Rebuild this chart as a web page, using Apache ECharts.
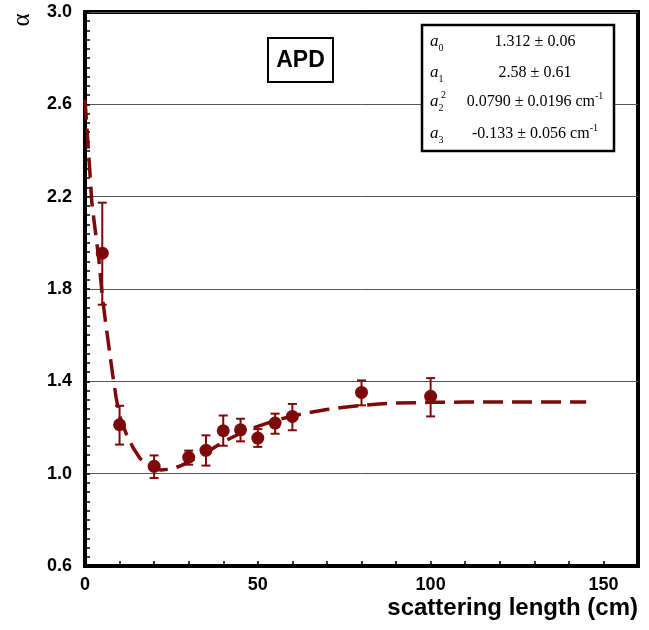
<!DOCTYPE html>
<html>
<head>
<meta charset="utf-8">
<script src="https://cdn.jsdelivr.net/npm/echarts@6/dist/echarts.min.js"></script>
<style>
  html, body { margin: 0; padding: 0; background: #fff; }
  #chart { width: 649px; height: 630px; }
</style>
</head>
<body>
<div id="chart"></div>
<script>
// measured points (scattering length in cm)
const pointX = [5, 10, 20, 30, 35, 40, 45, 50, 55, 60, 80, 100];
const pointY = [1.955, 1.212, 1.032, 1.071, 1.101, 1.186, 1.19, 1.154, 1.219, 1.248, 1.352, 1.335];
const errLow = [1.732, 1.126, 0.981, 1.039, 1.035, 1.121, 1.14, 1.116, 1.173, 1.188, 1.296, 1.248];
const errHigh = [2.174, 1.294, 1.079, 1.10, 1.166, 1.252, 1.238, 1.193, 1.26, 1.302, 1.404, 1.414];

// fitted curve
const fitX = [0, 1, 2, 3, 4, 5, 6, 7, 8, 9, 10, 12, 14, 16, 18, 20, 22, 25, 28, 32, 36, 40, 45, 50, 55, 60, 65, 70, 75, 80, 85, 90, 100, 110, 120, 130, 145];
const fitY = [2.62, 2.40, 2.17, 2.05, 1.93, 1.77, 1.65, 1.54, 1.43, 1.33, 1.25, 1.17, 1.11, 1.065, 1.037, 1.022, 1.016, 1.02, 1.036, 1.068, 1.10, 1.138, 1.175, 1.205, 1.23, 1.25, 1.265, 1.278, 1.288, 1.296, 1.302, 1.306, 1.309, 1.310, 1.311, 1.311, 1.311];

const xTicks = [0, 50, 100, 150];
const yTicks = [0.6, 1.0, 1.4, 1.8, 2.2, 2.6, 3.0];

const params = [
    { sub: '0', sup: '', value: '1.312 ± 0.06', unit: false },
    { sub: '1', sup: '', value: '2.58 ± 0.61', unit: false },
    { sub: '2', sup: '2', value: '0.0790 ± 0.0196 cm', unit: true },
    { sub: '3', sup: '', value: '-0.133 ± 0.056 cm', unit: true }
];
const paramRowY = [42, 73, 102, 134];

const red = '#7d0a0a';
const serif = '"Liberation Serif", "DejaVu Serif", serif';
const sans = '"Liberation Sans", Arial, sans-serif';

const chart = echarts.init(document.getElementById('chart'));

const fitData = fitX.map((x, i) => [x, fitY[i]]);
const pointData = pointX.map((x, i) => [x, pointY[i]]);
const errData = pointX.map((x, i) => [x, errLow[i], errHigh[i]]);

const graphics = [];
graphics.push({
    type: 'text', x: 22, y: 20, rotation: Math.PI / 2,
    style: { text: 'α', font: '25px ' + serif, fill: '#000', align: 'center', verticalAlign: 'middle' }
});
graphics.push({
    type: 'rect', shape: { x: 268, y: 38, width: 65, height: 44 },
    style: { fill: '#fff', stroke: '#000', lineWidth: 2 }, z: 10
});
graphics.push({
    type: 'text', x: 300.5, y: 61, z: 11,
    style: { text: 'APD', font: 'bold 23px ' + sans, fill: '#000', align: 'center', verticalAlign: 'middle' }
});
graphics.push({
    type: 'rect', shape: { x: 422, y: 25, width: 192, height: 126 },
    style: { fill: '#fff', stroke: '#000', lineWidth: 2.5 }, z: 10
});
params.forEach((p, i) => {
    const y = paramRowY[i];
    graphics.push({
        type: 'text', x: 430, y: y, z: 11,
        style: {
            text: '{a|a}{s|' + p.sub + '}',
            align: 'left', verticalAlign: 'middle',
            rich: {
                a: { fontFamily: serif, fontStyle: 'italic', fontSize: 17, lineHeight: 22, fill: '#000' },
                s: { fontFamily: serif, fontSize: 10, verticalAlign: 'bottom', fill: '#000' }
            }
        }
    });
    if (p.sup) {
        graphics.push({
            type: 'text', x: 441, y: y - 7, z: 11,
            style: { text: p.sup, font: '10px ' + serif, fill: '#000', align: 'left', verticalAlign: 'middle' }
        });
    }
    graphics.push({
        type: 'text', x: 535, y: y, z: 11,
        style: {
            text: '{v|' + p.value + '}' + (p.unit ? '{u|-1}' : ''),
            align: 'center', verticalAlign: 'middle',
            rich: {
                v: { fontFamily: serif, fontSize: 16, lineHeight: 22, fill: '#000' },
                u: { fontFamily: serif, fontSize: 10, verticalAlign: 'top', fill: '#000' }
            }
        }
    });
});

const option = {
    animation: false,
    grid: {
        left: 85, right: 11, top: 12, bottom: 64,
        show: true, borderColor: '#000', borderWidth: 4, backgroundColor: 'transparent'
    },
    xAxis: {
        type: 'value', min: 0, max: 160, interval: 50,
        name: 'scattering length (cm)',
        nameLocation: 'end', nameGap: 0,
        nameTextStyle: {
            fontFamily: sans, fontWeight: 'bold', fontSize: 24, color: '#000',
            align: 'right', verticalAlign: 'top', padding: [30, 0, 0, 0]
        },
        axisLine: { show: true, onZero: false, lineStyle: { color: '#000', width: 4 } },
        axisTick: { show: true, inside: true, length: 5, lineStyle: { color: '#000', width: 1.5 } },
        minorTick: { show: true, splitNumber: 5, length: 5, lineStyle: { color: '#000', width: 1.5 } },
        splitLine: { show: false },
        axisLabel: {
            margin: 10, showMaxLabel: false,
            fontFamily: sans, fontWeight: 'bold', fontSize: 18, color: '#000',
            formatter: v => xTicks.includes(v) ? String(v) : ''
        }
    },
    yAxis: {
        type: 'value', min: 0.6, max: 3.0, interval: 0.4,
        axisLine: { show: true, onZero: false, lineStyle: { color: '#000', width: 4 } },
        axisTick: { show: true, inside: true, length: 5, lineStyle: { color: '#000', width: 1.5 } },
        minorTick: { show: true, splitNumber: 10, length: 5, lineStyle: { color: '#000', width: 1.5 } },
        splitLine: { show: true, lineStyle: { color: '#555', width: 1 } },
        axisLabel: {
            margin: 13,
            fontFamily: sans, fontWeight: 'bold', fontSize: 18, color: '#000',
            formatter: v => {
                const t = yTicks.find(k => Math.abs(k - v) < 1e-6);
                return t === undefined ? '' : t.toFixed(1);
            }
        }
    },
    graphic: graphics,
    series: [
        {
            type: 'line', data: fitData, showSymbol: false, symbol: 'none', z: 2,
            lineStyle: { color: red, width: 3.5, type: [20, 9] }
        },
        {
            type: 'custom', data: errData, z: 3,
            encode: { x: 0, y: [1, 2] },
            renderItem: (params, api) => {
                const x = api.value(0);
                const lo = api.coord([x, api.value(1)]);
                const hi = api.coord([x, api.value(2)]);
                const w = 4.5;
                const st = { stroke: red, lineWidth: 2 };
                return {
                    type: 'group',
                    children: [
                        { type: 'line', shape: { x1: lo[0], y1: lo[1], x2: hi[0], y2: hi[1] }, style: st },
                        { type: 'line', shape: { x1: lo[0] - w, y1: lo[1], x2: lo[0] + w, y2: lo[1] }, style: st },
                        { type: 'line', shape: { x1: hi[0] - w, y1: hi[1], x2: hi[0] + w, y2: hi[1] }, style: st }
                    ]
                };
            }
        },
        {
            type: 'scatter', data: pointData, symbol: 'circle', symbolSize: 13, z: 4,
            itemStyle: { color: red, opacity: 1 }
        }
    ]
};

chart.setOption(option);
</script>
</body>
</html>
